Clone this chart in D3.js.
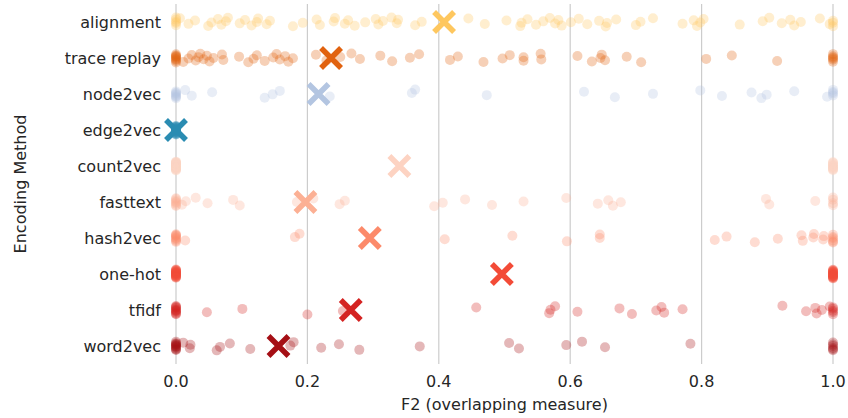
<!DOCTYPE html>
<html>
<head>
<meta charset="utf-8">
<script src="https://cdn.jsdelivr.net/npm/d3@7"></script>
<style>
  body { margin: 0; background: #fff; }
  text { font-family: "DejaVu Sans", sans-serif; fill: #262626; }
</style>
</head>
<body>
<script>
// categories, top to bottom
const methods = ['alignment', 'trace replay', 'node2vec', 'edge2vec', 'count2vec',
  'fasttext', 'hash2vec', 'one-hot', 'tfidf', 'word2vec'];

const colors = ['#fec75f', '#e1620f', '#b3c5e1', '#2a8cb2', '#fdd3c2',
  '#fcb094', '#fc8a6a', '#f34b37', '#d42322', '#a50f15'];

// mean marker (x) per method
const means = [0.408, 0.236, 0.217, 0.0, 0.340, 0.197, 0.295, 0.496, 0.266, 0.156];

const tickValues = [0, 0.2, 0.4, 0.6, 0.8, 1.0];

// F2 values per method
const alignmentVals = [0, 0, 0, 0, 0, 0.006, 0.019, 0.029, 0.049, 0.054, 0.064, 0.069, 0.076, 0.079,
  0.097, 0.105, 0.115, 0.123, 0.125, 0.138, 0.143, 0.178, 0.193, 0.214, 0.219, 0.240, 0.242,
  0.257, 0.262, 0.272, 0.288, 0.304, 0.308, 0.315, 0.328, 0.336, 0.338, 0.364, 0.374, 0.445,
  0.470, 0.503, 0.524, 0.526, 0.535, 0.548, 0.559, 0.569, 0.577, 0.582, 0.587, 0.601, 0.613,
  0.626, 0.644, 0.654, 0.656, 0.670, 0.700, 0.707, 0.726, 0.771, 0.788, 0.793, 0.798, 0.803,
  0.858, 0.893, 0.903, 0.922, 0.935, 0.941, 0.951, 0.980, 0.995, 1, 1, 1];
const traceVals = [0, 0, 0, 0, 0, 0, 0, 0, 0, 0.011, 0.019, 0.024, 0.030, 0.034, 0.037, 0.042, 0.047,
  0.051, 0.057, 0.070, 0.072, 0.096, 0.110, 0.118, 0.123, 0.135, 0.148, 0.153, 0.158, 0.166,
  0.171, 0.178, 0.213, 0.229, 0.250, 0.267, 0.280, 0.311, 0.329, 0.356, 0.370, 0.417, 0.429,
  0.468, 0.497, 0.508, 0.529, 0.529, 0.555, 0.556, 0.611, 0.633, 0.646, 0.648, 0.653, 0.686,
  0.708, 0.807, 0.846, 0.915, 1, 1, 1, 1, 1, 1];
const node2vecVals = [0, 0, 0, 0, 0, 0, 0, 0.014, 0.024, 0.055, 0.135, 0.147, 0.158, 0.234, 0.359,
  0.364, 0.473, 0.621, 0.668, 0.726, 0.798, 0.831, 0.876, 0.891, 0.899, 0.941, 0.991, 1, 1, 1, 1];
const edge2vecVals = [0, 0, 0, 0, 0, 0, 0, 0, 0, 0, 0, 0, 0, 0, 0, 0, 0, 0, 0, 0];
const count2vecVals = [0, 0, 0, 0, 0, 0, 0, 0, 0, 0, 0, 0, 0, 0, 0, 0, 0, 0, 0, 0, 0, 0, 0, 0, 0,
  0, 0, 0, 0, 0, 0, 0, 0, 1, 1, 1, 1, 1, 1, 1, 1, 1, 1, 1, 1, 1, 1, 1, 1, 1];
const fasttextVals = [0, 0, 0, 0, 0, 0, 0, 0, 0.009, 0.015, 0.030, 0.048, 0.087, 0.097, 0.184, 0.209,
  0.249, 0.257, 0.393, 0.406, 0.440, 0.481, 0.529, 0.594, 0.642, 0.658, 0.665, 0.677, 0.898,
  0.903, 0.973, 1, 1, 1, 1];
const hash2vecVals = [0, 0, 0, 0, 0, 0, 0, 0, 0, 0.014, 0.181, 0.188, 0.409, 0.512, 0.595, 0.645,
  0.645, 0.820, 0.838, 0.881, 0.916, 0.952, 0.954, 0.970, 0.971, 0.985, 0.986, 1, 1, 1, 1, 1, 1];
const onehotVals = [0, 0, 0, 0, 0, 0, 0, 0, 0, 0, 0, 0, 0, 0, 0, 0, 0, 0, 0, 0,
  1, 1, 1, 1, 1, 1, 1, 1, 1, 1, 1, 1, 1, 1, 1, 1, 1, 1, 1, 1];
const tfidfVals = [0, 0, 0, 0, 0, 0, 0, 0, 0, 0, 0, 0.047, 0.101, 0.200, 0.254, 0.457, 0.568, 0.570,
  0.577, 0.611, 0.675, 0.694, 0.731, 0.739, 0.743, 0.771, 0.923, 0.959, 0.973, 0.975, 0.983,
  0.995, 1, 1, 1, 1, 1];
const word2vecVals = [0, 0, 0, 0, 0, 0, 0, 0, 0, 0, 0, 0.011, 0.021, 0.022, 0.062, 0.067, 0.082,
  0.113, 0.174, 0.179, 0.221, 0.248, 0.279, 0.371, 0.507, 0.522, 0.594, 0.618, 0.653, 0.783,
  1, 1, 1, 1, 1, 1];

const values = [alignmentVals, traceVals, node2vecVals, edge2vecVals, count2vecVals,
  fasttextVals, hash2vecVals, onehotVals, tfidfVals, word2vecVals];

const W = 848, H = 418;
const svg = d3.select('body').append('svg')
  .attr('width', W)
  .attr('height', H);

const x = d3.scaleLinear().domain([0, 1]).range([176, 833]);
const y = d3.scaleBand().domain(methods).range([4, 364]);
const color = d3.scaleOrdinal().domain(methods).range(colors);

// vertical grid
svg.append('g').selectAll('line')
  .data(tickValues)
  .enter().append('line')
  .attr('x1', d => x(d)).attr('x2', d => x(d))
  .attr('y1', 4).attr('y2', 364)
  .attr('stroke', '#cccccc')
  .attr('stroke-width', 1.2);

// x tick labels
svg.append('g').selectAll('text')
  .data(tickValues)
  .enter().append('text')
  .attr('x', d => x(d))
  .attr('y', 381)
  .attr('text-anchor', 'middle')
  .attr('dominant-baseline', 'central')
  .style('font-size', '16px')
  .text(d3.format('.1f'));

// y tick labels
svg.append('g').selectAll('text')
  .data(methods)
  .enter().append('text')
  .attr('x', 161)
  .attr('y', d => y(d) + y.bandwidth() / 2)
  .attr('text-anchor', 'end')
  .attr('dominant-baseline', 'central')
  .style('font-size', '16px')
  .text(d => d);

// axis titles
svg.append('text')
  .attr('x', (x(0) + x(1)) / 2)
  .attr('y', 404)
  .attr('text-anchor', 'middle')
  .attr('dominant-baseline', 'central')
  .style('font-size', '16px')
  .text('F2 (overlapping measure)');

svg.append('text')
  .attr('transform', `translate(20, ${(4 + 364) / 2}) rotate(-90)`)
  .attr('text-anchor', 'middle')
  .attr('dominant-baseline', 'central')
  .style('font-size', '16px')
  .text('Encoding Method');

// strip points, with a fixed (non-random) jitter
const points = [];
methods.forEach((m, k) => {
  values[k].forEach((v, i) => {
    const j = ((i * 0.6180339887 + k * 0.37) % 1) - 0.5;
    points.push({ method: m, value: v, jitter: j });
  });
});

svg.append('g').selectAll('circle')
  .data(points)
  .enter().append('circle')
  .attr('cx', d => x(d.value))
  .attr('cy', d => y(d.method) + y.bandwidth() / 2 + d.jitter * 9)
  .attr('r', 5)
  .attr('fill', d => color(d.method))
  .attr('fill-opacity', 0.3);

// mean markers
const markerSize = 10;
const marks = svg.append('g').selectAll('g')
  .data(methods)
  .enter().append('g')
  .attr('transform', (d, k) => `translate(${x(means[k])}, ${y(d) + y.bandwidth() / 2})`);

marks.append('path')
  .attr('d', `M${-markerSize},${-markerSize}L${markerSize},${markerSize}M${-markerSize},${markerSize}L${markerSize},${-markerSize}`)
  .attr('stroke', d => color(d))
  .attr('stroke-width', 5.5)
  .attr('fill', 'none');
</script>
</body>
</html>
